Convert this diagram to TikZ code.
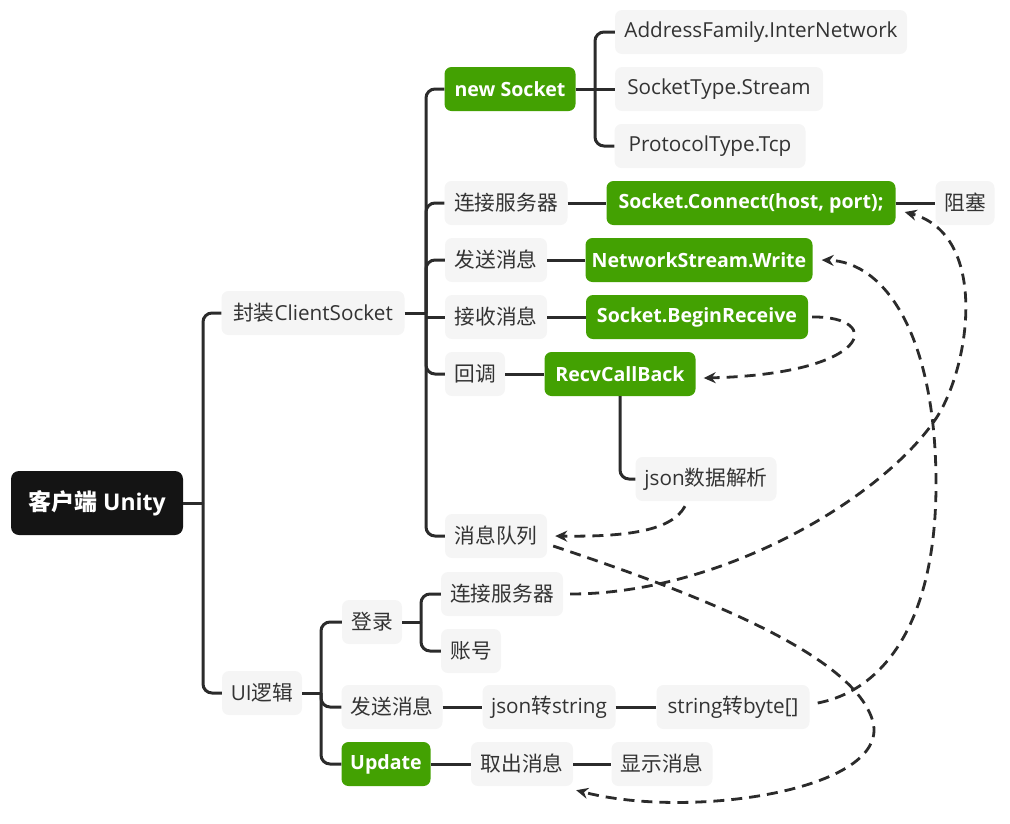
\documentclass[tikz,border=0pt]{standalone}
\usepackage{fontspec}
\setmainfont{Open Sans}
\newfontfamily\cjk{Noto Sans CJK SC}
\usetikzlibrary{arrows.meta}
\definecolor{boxgrey}{HTML}{F5F5F5}
\definecolor{mgreen}{HTML}{43A102}
\definecolor{ink}{HTML}{2B2B2B}
\definecolor{txt}{HTML}{333333}
\definecolor{rootc}{HTML}{141414}
\begin{document}
\begin{tikzpicture}[x=1pt,y=-1pt,
 box/.style={fill=boxgrey, rounded corners=7pt, inner sep=0pt, minimum height=44pt, text=txt, font=\fontsize{20.7}{24}\selectfont},
 gbox/.style={box, fill=mgreen, text=white, font=\fontsize{19.6}{24}\selectfont\bfseries},
 rootbox/.style={fill=rootc, rounded corners=8pt, inner sep=0pt, minimum height=64pt, text=white, font=\fontsize{23}{27}\selectfont\bfseries},
 conn/.style={draw=ink, line width=3pt, rounded corners=9pt},
 dl/.style={draw=ink, line width=2.8pt, dash pattern=on 11pt off 7pt, -{Stealth[length=12pt,width=11pt]}}
]
\useasboundingbox (0,0) rectangle (1010,823);

% nodes
\node[rootbox, minimum width=172pt] (root) at (97,503) {{\cjk 客户端} Unity};
\node[box, minimum width=183pt] (fz) at (313,313) {{\cjk 封装}ClientSocket};
\node[box, minimum width=80pt] (ui) at (262,693) {UI{\cjk 逻辑}};

\node[gbox, minimum width=131pt] (ns) at (510,89) {new Socket};
\node[box, minimum width=123pt] (lj) at (506,203) {\cjk 连接服务器};
\node[box, minimum width=102pt] (fs) at (496,260) {\cjk 发送消息};
\node[box, minimum width=102pt] (js) at (496,317) {\cjk 接收消息};
\node[box, minimum width=60pt] (hd) at (475,374) {\cjk 回调};
\node[box, minimum width=102pt] (mq) at (496,536) {\cjk 消息队列};

\node[box, minimum width=292pt] (af) at (761,32) {AddressFamily.InterNetwork};
\node[box, minimum width=208pt] (st) at (719,89) {SocketType.Stream};
\node[box, minimum width=191pt] (pt) at (710,146) {ProtocolType.Tcp};

\node[gbox, minimum width=289pt] (sc) at (751,203) {Socket.Connect(host, port);};
\node[box, minimum width=59pt] (zs) at (965,203) {\cjk 阻塞};
\node[gbox, minimum width=227pt] (nw) at (699,260) {NetworkStream.Write};
\node[gbox, minimum width=222pt] (br) at (697,317) {Socket.BeginReceive};
\node[gbox, minimum width=151pt] (rc) at (620,374) {RecvCallBack};
\node[box, minimum width=141pt] (jp) at (706,479) {json{\cjk 数据解析}};

\node[box, minimum width=60pt] (lg) at (372,622) {\cjk 登录};
\node[box, minimum width=101pt] (fs2) at (392,707) {\cjk 发送消息};
\node[gbox, minimum width=89pt] (up) at (386,764) {Update};
\node[box, minimum width=122pt] (lj2) at (502,594) {\cjk 连接服务器};
\node[box, minimum width=60pt] (zh) at (471,651) {\cjk 账号};
\node[box, minimum width=133pt] (js2) at (549,707) {json{\cjk 转}string};
\node[box, minimum width=153pt] (sb) at (733,707) {string{\cjk 转}byte[]};
\node[box, minimum width=102pt] (qc) at (522,764) {\cjk 取出消息};
\node[box, minimum width=101pt] (xs) at (662,764) {\cjk 显示消息};

% junctions
\coordinate (j0) at (203,503);
\coordinate (j1) at (426,313);
\coordinate (j2) at (595,89);
\coordinate (j3) at (321,693);
\coordinate (j4) at (421,622);

% tree connectors
\draw[conn] (root.east) -- (j0);
\draw[conn] (j0) |- (fz.west);
\draw[conn] (j0) |- (ui.west);

\draw[conn] (fz.east) -- (j1);
\draw[conn] (j1) |- (ns.west);
\draw[conn] (j1) |- (lj.west);
\draw[conn] (j1) |- (fs.west);
\draw[conn] (j1 |- js.west) -- (js.west);
\draw[conn] (j1) |- (hd.west);
\draw[conn] (j1) |- (mq.west);

\draw[conn] (ns.east) -- (st.west);
\draw[conn] (j2) |- (af.west);
\draw[conn] (j2) |- (pt.west);

\draw[conn] (lj.east) -- (sc.west);
\draw[conn] (sc.east) -- (zs.west);
\draw[conn] (fs.east) -- (nw.west);
\draw[conn] (js.east) -- (br.west);
\draw[conn] (hd.east) -- (rc.west);
\draw[conn] (rc.south) |- (jp.west);

\draw[conn] (ui.east) -- (j3);
\draw[conn] (j3) |- (lg.west);
\draw[conn] (j3) |- (fs2.west);
\draw[conn] (j3) |- (up.west);
\draw[conn] (lg.east) -- (j4);
\draw[conn] (j4) |- (lj2.west);
\draw[conn] (j4) |- (zh.west);
\draw[conn] (fs2.east) -- (js2.west);
\draw[conn] (js2.east) -- (sb.west);
\draw[conn] (up.east) -- (qc.west);
\draw[conn] (qc.east) -- (xs.west);

% dashed relations
\draw[dl] ([xshift=4pt]br.east) .. controls (885,316) and (872,374) .. ([xshift=8pt,yshift=-4pt]rc.east);
\draw[dl] ([xshift=-21pt,yshift=-5pt]jp.south) .. controls (672,530) and (630,537) .. ([xshift=8pt]mq.east);
\draw[dl] ([xshift=7pt]lj2.east) .. controls (720,594) and (880,500) .. (935,420) .. controls (970,369) and (990,235) .. ([xshift=9pt,yshift=-9pt]sc.east);
\draw[dl] ([xshift=8pt,yshift=4pt]sb.east) .. controls (885,690) and (937,620) .. (936,480) .. controls (935,335) and (885,262) .. ([xshift=9pt]nw.east);
\draw[dl] ([xshift=6pt,yshift=-10pt]mq.east) .. controls (700,595) and (855,655) .. (873,722) .. controls (890,790) and (690,820) .. ([xshift=3pt,yshift=-4pt]qc.south east);
\end{tikzpicture}
\end{document}
